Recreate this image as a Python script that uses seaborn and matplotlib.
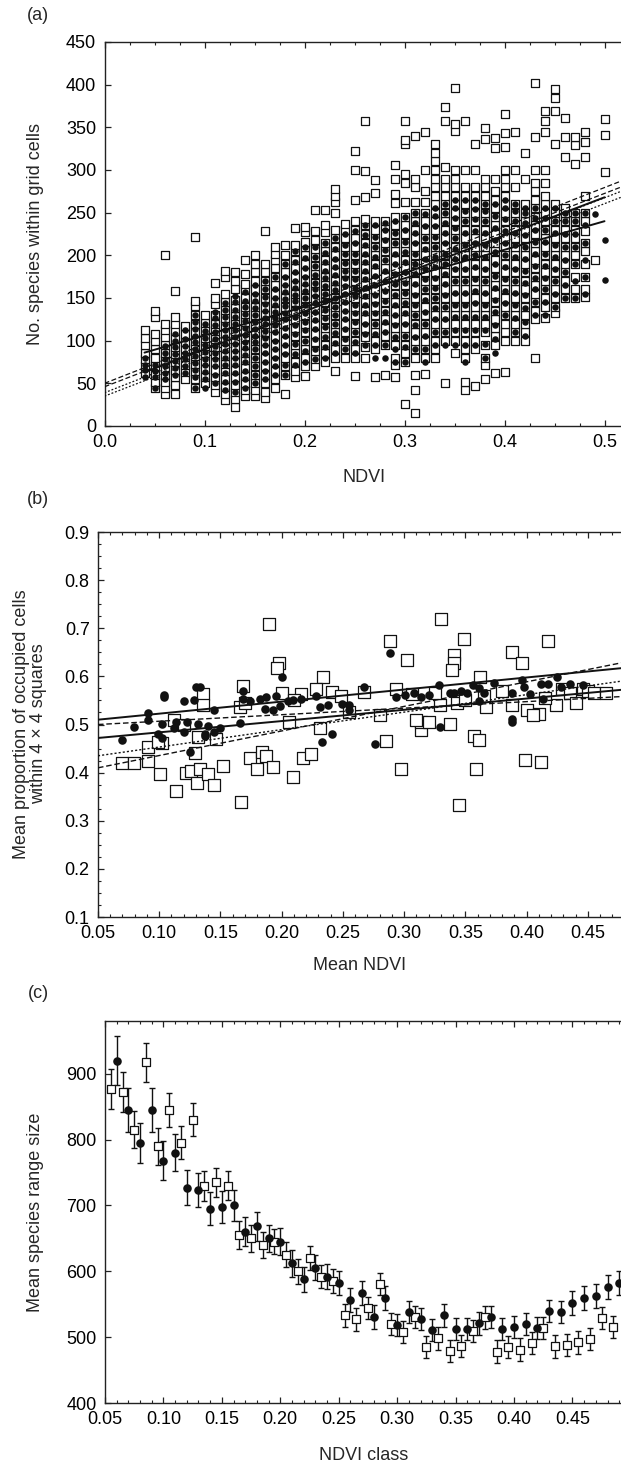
import matplotlib
matplotlib.use("Agg")
import matplotlib.pyplot as plt
import numpy as np
import pandas as pd
import seaborn as sns
from matplotlib.ticker import MultipleLocator, FormatStrFormatter

sns.set_style("ticks")
plt.rcParams["font.family"] = ["Liberation Sans", "DejaVu Sans"]
plt.rcParams["font.size"] = 13

# ---------------- (a) species number vs NDVI, one column per NDVI value
a_ndvi = [0.04, 0.05, 0.06, 0.07, 0.08, 0.09, 0.10, 0.11, 0.12, 0.13, 0.14, 0.15,
          0.16, 0.17, 0.18, 0.19, 0.20, 0.21, 0.22, 0.23, 0.24, 0.25, 0.26, 0.27,
          0.28, 0.29, 0.30, 0.31, 0.32, 0.33, 0.34, 0.35, 0.36, 0.37, 0.38, 0.39,
          0.40, 0.41, 0.42, 0.43, 0.44, 0.45, 0.46, 0.47, 0.48, 0.49, 0.50]
a_squares = [
    [62, 70, 78, 86, 95, 103, 112],
    [44, 52, 60, 70, 80, 90, 100, 108, 128, 135],
    [38, 45, 52, 60, 68, 77, 86, 95, 104, 112, 120, 200],
    [38, 48, 57, 66, 75, 84, 93, 102, 111, 120, 128, 158],
    [55, 63, 72, 81, 90, 99, 108, 117],
    [45, 55, 64, 73, 82, 91, 100, 110, 120, 130, 141, 147, 221],
    [50, 58, 67, 76, 85, 94, 103, 112, 121, 130],
    [40, 48, 57, 66, 75, 84, 93, 102, 111, 120, 130, 143, 150, 168],
    [30, 38, 46, 55, 64, 73, 82, 91, 100, 109, 118, 127, 136, 145, 155, 175, 182],
    [22, 32, 40, 48, 57, 66, 75, 84, 93, 102, 111, 120, 129, 138, 148, 160, 170, 180],
    [35, 42, 50, 59, 68, 77, 86, 95, 104, 113, 122, 131, 140, 150, 160, 166, 178, 195],
    [35, 42, 50, 60, 70, 80, 90, 100, 110, 120, 130, 140, 150, 160, 170, 180, 190, 200],
    [33, 40, 50, 60, 70, 80, 90, 100, 110, 120, 130, 140, 150, 160, 170, 180, 190, 229],
    [45, 55, 65, 75, 85, 95, 105, 115, 125, 135, 145, 155, 165, 175, 185, 195, 202, 210],
    [38, 60, 70, 80, 90, 100, 110, 120, 130, 140, 150, 160, 170, 180, 190, 200, 212],
    [58, 65, 75, 85, 95, 105, 115, 125, 135, 145, 155, 165, 175, 185, 195, 205, 212, 232],
    [59, 70, 80, 90, 100, 110, 120, 130, 140, 150, 160, 170, 180, 190, 200, 210, 216, 227, 233],
    [70, 78, 88, 98, 108, 118, 128, 138, 148, 158, 168, 178, 188, 198, 208, 218, 229, 253],
    [75, 85, 95, 105, 115, 125, 135, 145, 155, 165, 175, 185, 195, 205, 215, 227, 235, 253],
    [64, 80, 90, 100, 110, 120, 130, 140, 150, 160, 170, 180, 190, 200, 210, 220, 230, 250, 262, 270, 278],
    [80, 90, 100, 110, 120, 130, 140, 150, 160, 170, 180, 190, 200, 210, 220, 230, 237],
    [59, 80, 90, 100, 110, 120, 130, 140, 150, 160, 170, 180, 190, 200, 210, 220, 230, 240, 265, 300, 322],
    [80, 92, 104, 115, 125, 135, 145, 155, 165, 175, 185, 195, 205, 215, 225, 235, 242, 268, 299, 358],
    [57, 90, 100, 110, 120, 130, 140, 150, 160, 170, 180, 190, 200, 210, 220, 230, 240, 273, 288],
    [60, 95, 105, 115, 125, 135, 145, 155, 165, 175, 185, 195, 205, 215, 225, 235, 240],
    [57, 72, 80, 95, 105, 115, 125, 135, 145, 155, 165, 175, 185, 195, 205, 215, 225, 235, 245, 261, 272, 290, 306],
    [26, 75, 85, 95, 105, 115, 125, 135, 145, 155, 165, 175, 185, 195, 205, 215, 225, 235, 245, 262, 285, 295, 331, 335, 358],
    [15, 42, 60, 80, 90, 100, 110, 120, 130, 140, 150, 160, 170, 180, 190, 200, 210, 220, 230, 240, 250, 262, 280, 290, 340],
    [61, 80, 90, 100, 110, 120, 130, 140, 150, 160, 170, 180, 190, 200, 210, 220, 230, 240, 250, 262, 275, 300, 344],
    [80, 90, 100, 110, 120, 130, 140, 150, 160, 170, 180, 190, 200, 210, 220, 230, 240, 250, 260, 270, 280, 290, 300, 310, 320, 330],
    [50, 100, 110, 120, 130, 140, 150, 160, 170, 180, 190, 200, 210, 220, 230, 240, 250, 260, 270, 280, 290, 304, 358, 374],
    [85, 100, 110, 120, 130, 140, 150, 160, 170, 180, 190, 200, 210, 220, 230, 240, 250, 260, 270, 280, 290, 300, 346, 354, 396],
    [42, 52, 80, 90, 100, 110, 120, 130, 140, 150, 160, 170, 180, 190, 200, 210, 220, 230, 240, 250, 260, 270, 280, 300, 358],
    [47, 90, 100, 110, 120, 130, 140, 150, 160, 170, 180, 190, 200, 210, 220, 230, 240, 250, 260, 270, 280, 300, 330],
    [55, 71, 80, 95, 110, 120, 130, 140, 150, 160, 170, 180, 190, 200, 210, 220, 230, 240, 250, 260, 270, 280, 290, 336, 349],
    [62, 95, 105, 115, 125, 135, 145, 155, 165, 175, 185, 195, 205, 215, 225, 235, 245, 255, 265, 275, 290, 326, 337],
    [63, 100, 110, 120, 130, 140, 150, 160, 170, 180, 190, 200, 210, 220, 230, 240, 250, 260, 270, 280, 290, 300, 327, 343, 366],
    [100, 110, 120, 130, 140, 150, 160, 170, 180, 190, 200, 210, 220, 230, 240, 250, 260, 280, 300, 345],
    [100, 110, 120, 130, 140, 150, 160, 170, 180, 190, 200, 210, 220, 230, 240, 250, 260, 290, 320],
    [80, 125, 135, 145, 155, 165, 175, 185, 195, 205, 215, 225, 235, 245, 255, 265, 275, 285, 300, 339, 402],
    [126, 140, 150, 160, 170, 180, 190, 200, 210, 220, 230, 240, 250, 260, 270, 285, 300, 344, 357, 369],
    [132, 140, 150, 160, 170, 180, 190, 200, 210, 220, 230, 240, 250, 260, 331, 369, 384, 395],
    [150, 160, 170, 180, 190, 200, 210, 220, 230, 240, 250, 255, 315, 339, 361],
    [150, 160, 175, 190, 200, 210, 220, 230, 240, 250, 307, 329, 339],
    [151, 160, 175, 190, 205, 215, 228, 240, 250, 270, 315, 333, 345],
    [195],
    [298, 341, 360],
]
a_circles = [
    [58, 66, 72, 80],
    [45, 58, 65, 72],
    [55, 62, 70, 78, 86, 94],
    [60, 68, 76, 84, 92, 100, 108],
    [62, 70, 78, 86, 94, 102, 112],
    [45, 58, 66, 74, 82, 90, 98, 106, 114, 122, 130],
    [45, 55, 63, 71, 79, 87, 95, 103, 111, 119],
    [50, 60, 70, 78, 86, 94, 102, 110, 118, 126, 134],
    [42, 52, 62, 72, 80, 88, 96, 104, 112, 120, 128, 136, 144],
    [40, 52, 62, 72, 80, 88, 96, 104, 112, 120, 128, 136, 145, 152],
    [45, 55, 65, 75, 83, 91, 99, 107, 115, 123, 131, 139, 147, 157],
    [50, 60, 70, 80, 90, 98, 106, 114, 122, 130, 138, 146, 155, 165],
    [55, 65, 75, 85, 95, 103, 111, 119, 127, 135, 143, 151, 160, 170],
    [60, 70, 80, 90, 100, 110, 118, 126, 134, 142, 150, 160, 175],
    [60, 72, 84, 95, 105, 115, 125, 133, 141, 149, 157, 165, 175, 190],
    [72, 84, 96, 108, 118, 128, 138, 146, 154, 162, 170, 180, 192, 205],
    [75, 88, 100, 112, 122, 132, 142, 150, 158, 166, 175, 185, 197, 210],
    [78, 90, 102, 114, 124, 134, 144, 152, 160, 168, 177, 187, 198, 210],
    [80, 92, 104, 116, 126, 136, 146, 155, 164, 173, 182, 192, 203, 215],
    [85, 97, 109, 120, 130, 140, 150, 159, 168, 177, 186, 196, 207, 220],
    [90, 102, 114, 125, 135, 145, 155, 164, 173, 182, 191, 201, 212, 225],
    [85, 98, 110, 122, 132, 142, 152, 162, 172, 182, 192, 202, 214, 228],
    [95, 108, 120, 132, 142, 152, 162, 172, 182, 192, 202, 212, 224, 235],
    [80, 95, 108, 120, 132, 143, 154, 165, 176, 187, 198, 210, 222, 235],
    [80, 95, 110, 122, 134, 146, 158, 170, 182, 194, 206, 218, 230, 238],
    [75, 90, 104, 118, 130, 142, 154, 166, 178, 190, 202, 214, 226, 240],
    [75, 92, 106, 120, 132, 144, 156, 168, 180, 192, 204, 216, 230, 245],
    [90, 104, 118, 130, 142, 154, 166, 178, 190, 202, 214, 226, 238, 250],
    [75, 90, 106, 120, 134, 148, 160, 172, 184, 196, 208, 220, 234, 248],
    [95, 110, 125, 138, 150, 162, 174, 186, 198, 210, 222, 234, 246, 255],
    [95, 110, 125, 140, 153, 166, 178, 190, 202, 214, 226, 238, 250, 260],
    [95, 112, 128, 142, 156, 170, 184, 196, 208, 220, 232, 244, 255, 265],
    [75, 95, 112, 128, 142, 156, 170, 184, 198, 212, 226, 240, 252, 265],
    [95, 112, 128, 144, 158, 172, 186, 200, 214, 228, 242, 254, 265],
    [80, 96, 112, 128, 142, 156, 170, 184, 198, 212, 226, 240, 252, 260],
    [85, 102, 118, 134, 148, 162, 176, 190, 204, 218, 232, 246, 260],
    [130, 144, 158, 172, 186, 200, 214, 228, 242, 255, 265],
    [110, 126, 142, 156, 170, 184, 198, 212, 226, 240, 252, 260],
    [105, 122, 138, 154, 168, 182, 196, 210, 224, 238, 250, 255],
    [130, 145, 160, 174, 188, 202, 216, 230, 244, 255],
    [130, 145, 160, 174, 188, 202, 216, 230, 244, 255],
    [140, 155, 170, 184, 198, 212, 226, 240, 255],
    [150, 165, 180, 195, 210, 225, 240, 250],
    [150, 170, 190, 210, 225, 240, 250],
    [155, 175, 195, 215, 235, 250],
    [249],
    [171, 218],
]
# fitted lines
a_fit_x = [0.04, 0.50]
a_fit_flat = [86, 240]
a_fit_steep = [63, 268]
a_band_x = [0.0, 0.5165]
a_dash_1 = [50, 287]
a_dash_2 = [46, 280]
a_dot_1 = [39, 275]
a_dot_2 = [35, 268]

# ---------------- (b) mean proportion of occupied cells vs mean NDVI
b_circ_x = [0.070, 0.079, 0.091, 0.099, 0.102, 0.102, 0.112, 0.114, 0.120, 0.123,
            0.125, 0.132, 0.137, 0.137, 0.140, 0.145, 0.150, 0.166, 0.104, 0.104,
            0.120, 0.128, 0.130, 0.133, 0.145, 0.091, 0.168, 0.168, 0.174, 0.182,
            0.187, 0.195, 0.186, 0.193, 0.199, 0.205, 0.209, 0.200, 0.216, 0.228,
            0.231, 0.238, 0.249, 0.255, 0.255, 0.267, 0.233, 0.241, 0.276, 0.288,
            0.293, 0.301, 0.308, 0.314, 0.320, 0.328, 0.329, 0.337, 0.341, 0.346,
            0.351, 0.356, 0.361, 0.365, 0.373, 0.361, 0.388, 0.388, 0.396, 0.398,
            0.403, 0.412, 0.413, 0.417, 0.425, 0.428, 0.435, 0.446, 0.388]
b_circ_y = [0.468, 0.494, 0.509, 0.481, 0.501, 0.471, 0.492, 0.506, 0.485, 0.506,
            0.442, 0.502, 0.481, 0.476, 0.497, 0.485, 0.492, 0.503, 0.561, 0.558,
            0.549, 0.551, 0.577, 0.577, 0.531, 0.524, 0.570, 0.552, 0.548, 0.552,
            0.558, 0.559, 0.533, 0.531, 0.539, 0.548, 0.551, 0.598, 0.552, 0.559,
            0.537, 0.541, 0.543, 0.541, 0.531, 0.578, 0.464, 0.480, 0.459, 0.648,
            0.558, 0.561, 0.566, 0.558, 0.561, 0.582, 0.495, 0.565, 0.566, 0.570,
            0.565, 0.582, 0.575, 0.565, 0.587, 0.549, 0.565, 0.506, 0.592, 0.578,
            0.563, 0.585, 0.553, 0.584, 0.598, 0.578, 0.585, 0.582, 0.511]
b_sq_x = [0.190, 0.198, 0.196, 0.288, 0.330, 0.302, 0.349, 0.341, 0.341, 0.339,
          0.388, 0.396, 0.417, 0.168, 0.234, 0.136, 0.136, 0.166, 0.200, 0.216,
          0.228, 0.241, 0.248, 0.267, 0.293, 0.306, 0.362, 0.329, 0.343, 0.367,
          0.388, 0.400, 0.424, 0.410, 0.429, 0.446, 0.070, 0.079, 0.091, 0.091,
          0.101, 0.102, 0.114, 0.122, 0.126, 0.131, 0.133, 0.140, 0.145, 0.152,
          0.167, 0.174, 0.180, 0.184, 0.187, 0.193, 0.209, 0.217, 0.224, 0.231,
          0.285, 0.297, 0.314, 0.314, 0.320, 0.337, 0.345, 0.357, 0.361, 0.359,
          0.399, 0.412, 0.129, 0.112, 0.120, 0.146, 0.132, 0.099, 0.206, 0.170,
          0.210, 0.255, 0.280, 0.310, 0.325, 0.350, 0.365, 0.380, 0.405, 0.415,
          0.435, 0.440, 0.450, 0.455, 0.465]
b_sq_y = [0.708, 0.627, 0.617, 0.673, 0.720, 0.635, 0.677, 0.644, 0.628, 0.613,
          0.651, 0.627, 0.673, 0.580, 0.599, 0.563, 0.540, 0.537, 0.566, 0.563,
          0.573, 0.568, 0.559, 0.568, 0.573, 0.563, 0.599, 0.540, 0.544, 0.537,
          0.540, 0.531, 0.540, 0.521, 0.573, 0.573, 0.420, 0.419, 0.454, 0.424,
          0.398, 0.461, 0.362, 0.400, 0.403, 0.378, 0.407, 0.398, 0.374, 0.414,
          0.339, 0.430, 0.407, 0.443, 0.434, 0.412, 0.390, 0.430, 0.438, 0.492,
          0.466, 0.407, 0.488, 0.506, 0.506, 0.502, 0.332, 0.476, 0.468, 0.408,
          0.426, 0.422, 0.440, 0.510, 0.500, 0.469, 0.474, 0.464, 0.506, 0.545,
          0.550, 0.525, 0.520, 0.510, 0.565, 0.550, 0.560, 0.570, 0.520, 0.555,
          0.565, 0.545, 0.570, 0.565, 0.565]
b_line_x = [0.05, 0.477]
b_solid_1 = [0.510, 0.617]
b_solid_2 = [0.472, 0.572]
b_dotted = [0.435, 0.590]
b_dashed_1 = [0.410, 0.628]
b_dashed_2 = [0.500, 0.558]

# ---------------- (c) mean species range size per NDVI class
c_circ_x = [0.06, 0.07, 0.08, 0.09, 0.10, 0.11, 0.12, 0.13, 0.14, 0.15, 0.16,
            0.17, 0.18, 0.19, 0.20, 0.21, 0.22, 0.23, 0.24, 0.25, 0.26, 0.27,
            0.28, 0.29, 0.30, 0.31, 0.32, 0.33, 0.34, 0.35, 0.36, 0.37, 0.38,
            0.39, 0.40, 0.41, 0.42, 0.43, 0.44, 0.45, 0.46, 0.47, 0.48, 0.49]
c_circ_y = [920, 845, 795, 845, 768, 780, 727, 723, 695, 698, 700,
            660, 668, 650, 645, 612, 588, 605, 592, 582, 556, 567,
            531, 559, 518, 538, 528, 511, 533, 512, 512, 521, 531,
            512, 515, 520, 514, 540, 538, 552, 559, 562, 576, 582]
c_circ_err = [37, 33, 30, 33, 30, 28, 27, 26, 25, 24, 23,
              22, 22, 21, 20, 20, 19, 19, 19, 18, 18, 18,
              18, 18, 17, 17, 17, 17, 17, 17, 17, 17, 17,
              17, 17, 17, 17, 17, 17, 18, 18, 18, 18, 18]
c_sq_x = [0.055, 0.065, 0.075, 0.085, 0.095, 0.105, 0.115, 0.125, 0.135, 0.145, 0.155,
          0.165, 0.175, 0.185, 0.195, 0.205, 0.215, 0.225, 0.235, 0.245, 0.255, 0.265,
          0.275, 0.285, 0.295, 0.305, 0.315, 0.325, 0.335, 0.345, 0.355, 0.365, 0.375,
          0.385, 0.395, 0.405, 0.415, 0.425, 0.435, 0.445, 0.455, 0.465, 0.475, 0.485]
c_sq_y = [877, 872, 815, 917, 790, 845, 795, 830, 730, 735, 730,
          655, 650, 640, 645, 625, 600, 620, 592, 585, 533, 527,
          544, 581, 520, 508, 531, 485, 498, 479, 487, 509, 530,
          478, 485, 481, 491, 514, 486, 488, 492, 497, 529, 515]
c_sq_err = [30, 30, 28, 30, 28, 26, 25, 25, 23, 22, 22,
            21, 20, 20, 19, 19, 19, 18, 18, 18, 17, 17,
            17, 17, 17, 17, 17, 17, 17, 17, 17, 17, 17,
            17, 17, 17, 17, 17, 17, 17, 17, 17, 17, 17]


def long_table(xs, groups, name):
    rows = [(x, v) for x, g in zip(xs, groups) for v in g]
    return pd.DataFrame(rows, columns=["x", name])


W, H = 621, 1467
FS = 13
fig = plt.figure(figsize=(W / 100, H / 100), dpi=100)


def px_axes(left, top, bottom):
    return fig.add_axes([left / W, 1 - bottom / H, 1 - left / W, (bottom - top) / H])


def style(ax):
    ax.spines["right"].set_visible(False)
    for s in ["left", "bottom", "top"]:
        ax.spines[s].set_linewidth(1.0)
        ax.spines[s].set_color("#222222")
    ax.tick_params(which="both", direction="in", top=True, right=False,
                   colors="#222222", labelcolor="black", labelsize=FS, pad=6)
    ax.tick_params(which="major", length=4, width=0.9)
    ax.tick_params(which="minor", length=2.5, width=0.8)
    ax.set_xlabel("")
    ax.set_ylabel("")


def label(x, y, s, **kw):
    fig.text(x / W, 1 - y / H, s, ha="center", va="center", fontsize=FS, **kw)


sq_kw = dict(marker="s", facecolor="white", edgecolor="#111111", linewidth=0.9)
ci_kw = dict(marker="o", color="#111111", edgecolor="#111111", linewidth=0)

# ---- panel (a)
ax = px_axes(104.5, 42, 426)
sq_a = long_table(a_ndvi, a_squares, "n")
ci_a = long_table(a_ndvi, a_circles, "n")
sns.scatterplot(data=sq_a, x="x", y="n", s=34, ax=ax, zorder=2, **sq_kw)
sns.scatterplot(data=ci_a, x="x", y="n", s=22, ax=ax, zorder=3, **ci_kw)
sns.lineplot(x=a_fit_x, y=a_fit_flat, color="#111111", lw=1.4, ax=ax, zorder=4)
sns.lineplot(x=a_fit_x, y=a_fit_steep, color="#111111", lw=1.4, ax=ax, zorder=4)
for ys, ls in [(a_dash_1, (0, (4, 2))), (a_dash_2, (0, (4, 2))),
               (a_dot_1, (0, (1.5, 1.5))), (a_dot_2, (0, (1.5, 1.5)))]:
    sns.lineplot(x=a_band_x, y=ys, color="#111111", lw=0.9, ax=ax, zorder=4, linestyle=ls)
ax.set_xlim(0, 0.5165)
ax.set_ylim(0, 450)
ax.xaxis.set_major_locator(MultipleLocator(0.1))
ax.xaxis.set_minor_locator(MultipleLocator(0.025))
ax.xaxis.set_major_formatter(FormatStrFormatter("%.1f"))
ax.yaxis.set_major_locator(MultipleLocator(50))
style(ax)
label(36, 234, "No. species within grid cells", rotation=90)
label(364, 477, "NDVI")
label(38, 15, "(a)")

# ---- panel (b)
ax = px_axes(98, 532, 917)
sns.scatterplot(x=b_sq_x, y=b_sq_y, s=64, ax=ax, zorder=2, **sq_kw)
sns.scatterplot(x=b_circ_x, y=b_circ_y, s=38, ax=ax, zorder=3, **ci_kw)
sns.lineplot(x=b_line_x, y=b_solid_1, color="#111111", lw=1.4, ax=ax, zorder=4)
sns.lineplot(x=b_line_x, y=b_solid_2, color="#111111", lw=1.4, ax=ax, zorder=4)
sns.lineplot(x=b_line_x, y=b_dotted, color="#111111", lw=1.0, ax=ax, zorder=4,
             linestyle=(0, (1.5, 1.5)))
sns.lineplot(x=b_line_x, y=b_dashed_1, color="#111111", lw=1.0, ax=ax, zorder=4,
             linestyle=(0, (4, 2)))
sns.lineplot(x=b_line_x, y=b_dashed_2, color="#111111", lw=1.0, ax=ax, zorder=4,
             linestyle=(0, (4, 2)))
ax.set_xlim(0.05, 0.477)
ax.set_ylim(0.1, 0.9)
ax.xaxis.set_major_locator(MultipleLocator(0.05))
ax.xaxis.set_minor_locator(MultipleLocator(0.01))
ax.xaxis.set_major_formatter(FormatStrFormatter("%.2f"))
ax.yaxis.set_major_locator(MultipleLocator(0.1))
ax.yaxis.set_minor_locator(MultipleLocator(0.025))
ax.yaxis.set_major_formatter(FormatStrFormatter("%.1f"))
style(ax)
label(30, 724, "Mean proportion of occupied cells\nwithin 4 \u00d7 4 squares",
      rotation=90, linespacing=1.0)
label(360, 966, "Mean NDVI")
label(38, 500, "(b)")

# ---- panel (c)
ax = px_axes(105, 1021, 1403)
ax.errorbar(c_circ_x, c_circ_y, yerr=c_circ_err, fmt="none", ecolor="#111111",
            elinewidth=1.0, capsize=2.2, capthick=1.0, zorder=2)
ax.errorbar(c_sq_x, c_sq_y, yerr=c_sq_err, fmt="none", ecolor="#111111",
            elinewidth=1.0, capsize=2.2, capthick=1.0, zorder=2)
sns.scatterplot(x=c_sq_x, y=c_sq_y, s=26, ax=ax, zorder=3, **sq_kw)
sns.scatterplot(x=c_circ_x, y=c_circ_y, s=38, ax=ax, zorder=3, **ci_kw)
ax.set_xlim(0.05, 0.4915)
ax.set_ylim(400, 980)
ax.xaxis.set_major_locator(MultipleLocator(0.05))
ax.xaxis.set_minor_locator(MultipleLocator(0.01))
ax.xaxis.set_major_formatter(FormatStrFormatter("%.2f"))
ax.yaxis.set_major_locator(MultipleLocator(100))
style(ax)
label(36, 1212, "Mean species range size", rotation=90)
label(364, 1455, "NDVI class")
label(38, 993, "(c)")

fig.savefig("out.png", dpi=100)
